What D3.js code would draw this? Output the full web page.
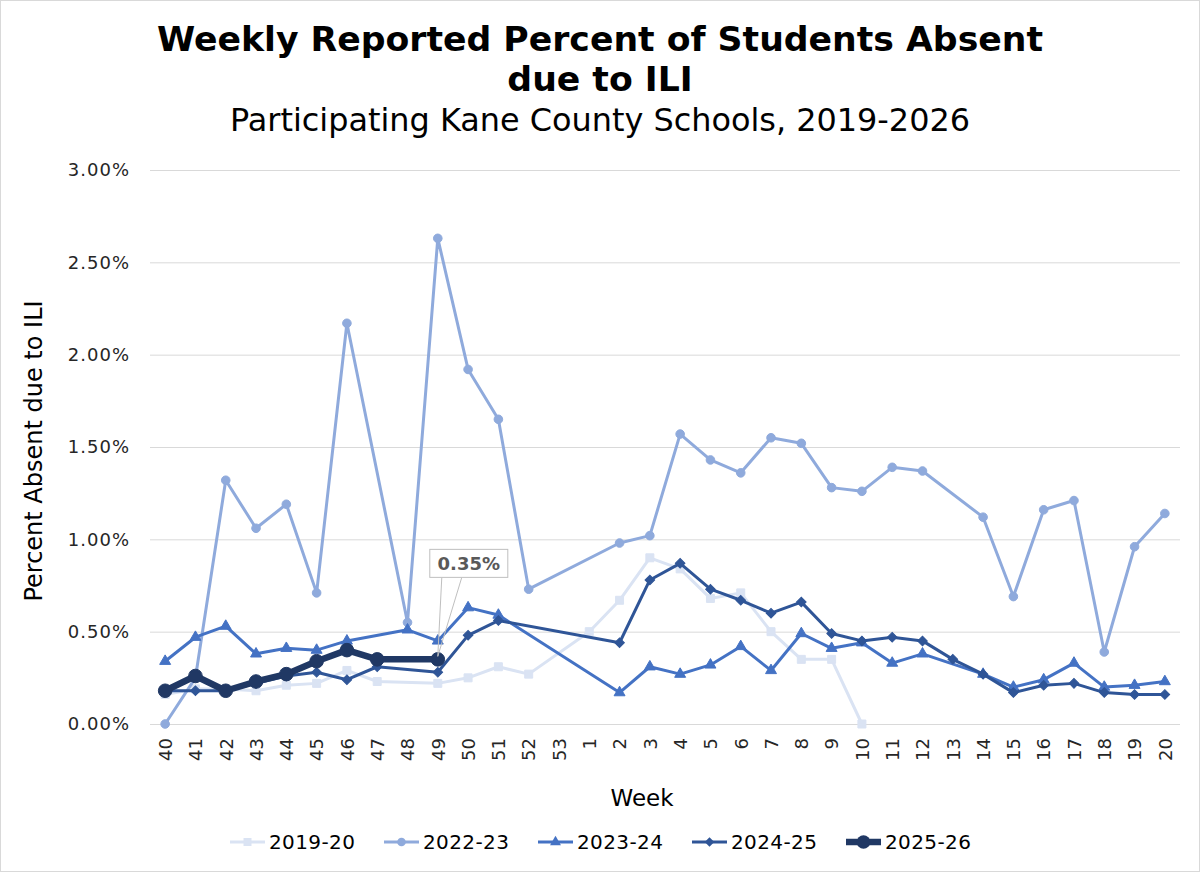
<!DOCTYPE html>
<html>
<head>
<meta charset="utf-8">
<script src="https://cdn.jsdelivr.net/npm/d3@7"></script>
<style>
  body { margin: 0; background: #fff; }
  svg { display: block; font-family: "DejaVu Sans", Verdana, sans-serif; }
</style>
</head>
<body>
<svg width="1200" height="872"></svg>
<script>
// DATA
const weeks = ["40","41","42","43","44","45","46","47","48","49","50","51","52","53",
  "1","2","3","4","5","6","7","8","9","10","11","12","13","14","15","16","17","18","19","20"];
const seasons = ["2019-20", "2022-23", "2023-24", "2024-25", "2025-26"];

// percent absent, null = no report that week
const pct2019 = [0.16, 0.19, 0.19, 0.18, 0.21, 0.22, 0.29, 0.23, null, 0.22, 0.25, 0.31, 0.27, null,
  0.50, 0.67, 0.90, 0.84, 0.68, 0.71, 0.50, 0.35, 0.35, 0.00,
  null, null, null, null, null, null, null, null, null, null];
const pct2022 = [0.00, 0.25, 1.32, 1.06, 1.19, 0.71, 2.17, null, 0.55, 2.63, 1.92, 1.65, 0.73, null,
  null, 0.98, 1.02, 1.57, 1.43, 1.36, 1.55, 1.52, 1.28, 1.26, 1.39, 1.37, null, 1.12, 0.69, 1.16, 1.21, 0.39, 0.96, 1.14];
const pct2023 = [0.34, 0.47, 0.53, 0.38, 0.41, 0.40, 0.45, null, 0.51, 0.45, 0.63, 0.59, null, null,
  null, 0.17, 0.31, 0.27, 0.32, 0.42, 0.29, 0.49, 0.41, 0.44, 0.33, 0.38, null, 0.27, 0.20, 0.24, 0.33, 0.20, 0.21, 0.23];
const pct2024 = [0.18, 0.18, 0.18, 0.22, 0.26, 0.28, 0.24, 0.31, null, 0.28, 0.48, 0.56, null, null,
  null, 0.44, 0.78, 0.87, 0.73, 0.67, 0.60, 0.66, 0.49, 0.45, 0.47, 0.45, 0.35, 0.27, 0.17, 0.21, 0.22, 0.17, 0.16, 0.16];
const pct2025 = [0.18, 0.26, 0.18, 0.23, 0.27, 0.34, 0.40, 0.35, null, 0.35, null, null, null, null,
  null, null, null, null, null, null, null, null, null, null, null, null, null, null, null, null, null, null, null, null];

const yTicks = [0, 0.5, 1, 1.5, 2, 2.5, 3];
const labelWeek = "49";   // data label shown on the current season
const labelText = "0.35%";

// STYLES per season
const styles = [
  { color: "#DAE3F3", width: 3, symbol: d3.symbolSquare, size: 64, rotate: 0 },
  { color: "#8FAADC", width: 3, symbol: d3.symbolCircle, size: 58, rotate: 0 },
  { color: "#4472C4", width: 3, symbol: d3.symbolTriangle, size: 52, rotate: 0 },
  { color: "#2F5597", width: 3, symbol: d3.symbolSquare, size: 46, rotate: 45 },
  { color: "#203864", width: 6.5, symbol: d3.symbolCircle, size: 145, rotate: 0 }
];
const series = [pct2019, pct2022, pct2023, pct2024, pct2025].map((vals, i) => ({
  name: seasons[i],
  style: styles[i],
  points: vals.map((v, j) => ({ week: weeks[j], value: v })).filter(d => d.value !== null)
}));

const svg = d3.select("svg");
const W = 1200, H = 872;
const margin = { top: 170, left: 150, right: 20, bottom: 148 };

// chart border
svg.append("rect")
  .attr("x", 0.5).attr("y", 0.5)
  .attr("width", W - 1).attr("height", H - 1)
  .attr("fill", "#fff").attr("stroke", "#D9D9D9");

// SCALES
const x = d3.scalePoint().domain(weeks).range([margin.left, W - margin.right]).padding(0.5);
const y = d3.scaleLinear().domain([0, 3]).range([H - margin.bottom, margin.top]);

// TITLES (fitted to the reference width)
function fit(sel, target) {
  const n = sel.node().getComputedTextLength();
  sel.attr("textLength", target).attr("lengthAdjust", "spacingAndGlyphs");
  return target / n;
}
const t1 = svg.append("text").attr("x", 600).attr("y", 51).attr("text-anchor", "middle")
  .attr("font-size", 34).attr("font-weight", "bold").attr("fill", "#000")
  .text("Weekly Reported Percent of Students Absent");
const ratio = fit(t1, 886);
const t2 = svg.append("text").attr("x", 600).attr("y", 91).attr("text-anchor", "middle")
  .attr("font-size", 34).attr("font-weight", "bold").attr("fill", "#000")
  .text("due to ILI");
t2.attr("textLength", t2.node().getComputedTextLength() * ratio)
  .attr("lengthAdjust", "spacingAndGlyphs");
const sub = svg.append("text").attr("x", 600).attr("y", 131).attr("text-anchor", "middle")
  .attr("font-size", 31.5).attr("fill", "#000")
  .text("Participating Kane County Schools, 2019-2026");
fit(sub, 740);

// GRIDLINES + Y AXIS
const yAxis = svg.append("g")
  .attr("transform", `translate(${margin.left},0)`)
  .call(d3.axisLeft(y).tickValues(yTicks)
    .tickSize(-(W - margin.left - margin.right))
    .tickPadding(20)
    .tickFormat(d => d.toFixed(2) + "%"));
yAxis.select(".domain").remove();
yAxis.selectAll(".tick line").attr("stroke", "#D9D9D9").attr("stroke-width", 1);
yAxis.selectAll(".tick text")
  .attr("font-size", 18).attr("letter-spacing", 1).attr("fill", "#262626")
  .attr("font-family", "DejaVu Sans");

// X AXIS
const xAxis = svg.append("g")
  .attr("transform", `translate(0,${H - margin.bottom})`)
  .call(d3.axisBottom(x).tickSize(0).tickPadding(0));
xAxis.select(".domain").remove();
xAxis.selectAll(".tick text")
  .attr("font-size", 18).attr("fill", "#262626").attr("font-family", "DejaVu Sans")
  .attr("text-anchor", "end")
  .attr("transform", "rotate(-90)")
  .attr("x", -14).attr("y", 0).attr("dy", "0.35em");

// AXIS TITLES
svg.append("text")
  .attr("transform", `translate(42,451) rotate(-90)`)
  .attr("text-anchor", "middle")
  .attr("font-size", 24).attr("fill", "#000")
  .text("Percent Absent due to ILI");
svg.append("text")
  .attr("x", 642).attr("y", 806).attr("text-anchor", "middle")
  .attr("font-size", 23).attr("fill", "#000")
  .text("Week");

// LINES + MARKERS
const line = d3.line().x(d => x(d.week)).y(d => y(d.value));
const sym = s => d3.symbol().type(s.symbol).size(s.size);

const groups = svg.append("g").selectAll("g").data(series).join("g");
groups.append("path")
  .attr("d", d => line(d.points))
  .attr("fill", "none")
  .attr("stroke", d => d.style.color)
  .attr("stroke-width", d => d.style.width)
  .attr("stroke-linejoin", "round");
groups.each(function (s) {
  d3.select(this).selectAll(".pt").data(s.points).join("path")
    .attr("class", "pt")
    .attr("d", sym(s.style))
    .attr("transform", d => `translate(${x(d.week)},${y(d.value)}) rotate(${s.style.rotate})`)
    .attr("fill", s.style.color)
    .attr("stroke", s.style.color)
    .attr("stroke-width", 1);
});

// DATA CALLOUT on latest season
const cur = series[4].points.find(d => d.week === labelWeek);
const px = x(cur.week), py = y(cur.value);
const box = { x: px - 8, y: py - 110, w: 78, h: 28 };
svg.append("path")
  .attr("d", `M${box.x + 12},${box.y + box.h} L${px},${py - 3} L${box.x + 32},${box.y + box.h}`)
  .attr("fill", "none").attr("stroke", "#BFBFBF").attr("stroke-width", 1);
svg.append("rect")
  .attr("x", box.x).attr("y", box.y).attr("width", box.w).attr("height", box.h)
  .attr("fill", "#fff").attr("stroke", "#BFBFBF").attr("stroke-width", 1);
svg.append("text")
  .attr("x", box.x + box.w / 2).attr("y", box.y + box.h / 2).attr("dy", "0.36em")
  .attr("text-anchor", "middle")
  .attr("font-size", 18).attr("font-weight", "bold").attr("fill", "#595959")
  .text(labelText);

// LEGEND
const legend = svg.append("g").selectAll("g").data(series).join("g")
  .attr("transform", (d, i) => `translate(${230 + i * 154},842)`);
legend.append("line")
  .attr("x1", 0).attr("x2", 35)
  .attr("stroke", d => d.style.color)
  .attr("stroke-width", d => d.style.width);
legend.append("path")
  .attr("d", d => sym(d.style)())
  .attr("transform", d => `translate(17.5,0) rotate(${d.style.rotate})`)
  .attr("fill", d => d.style.color);
legend.append("text")
  .attr("x", 39).attr("dy", "0.36em")
  .attr("font-size", 20).attr("letter-spacing", 0.4).attr("fill", "#000")
  .text(d => d.name);
</script>
</body>
</html>
